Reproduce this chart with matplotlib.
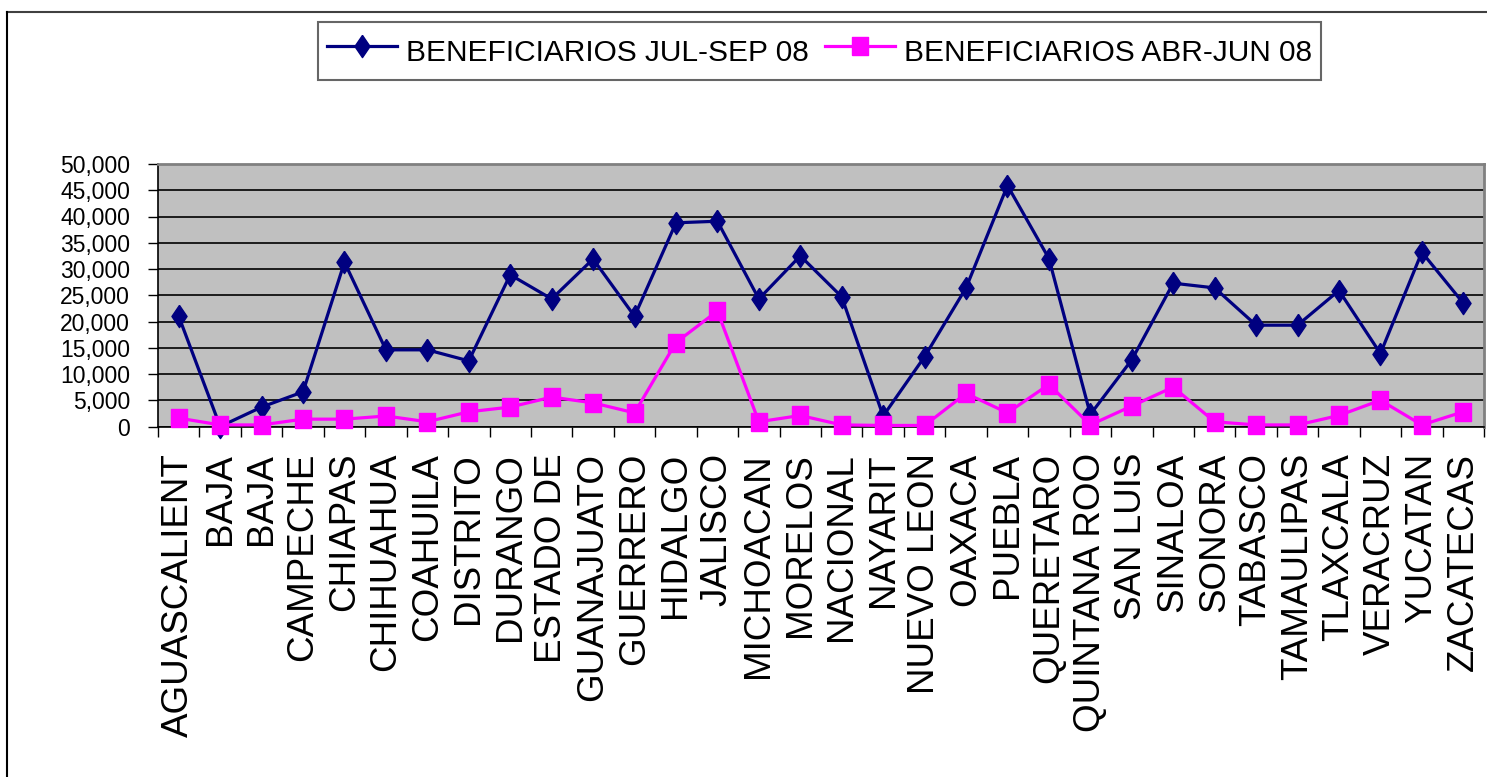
import matplotlib.pyplot as plt
import numpy as np
from matplotlib.lines import Line2D
from matplotlib.ticker import FuncFormatter, MultipleLocator

estados = [
    "AGUASCALIENT", "BAJA", "BAJA", "CAMPECHE", "CHIAPAS", "CHIHUAHUA",
    "COAHUILA", "DISTRITO", "DURANGO", "ESTADO DE", "GUANAJUATO", "GUERRERO",
    "HIDALGO", "JALISCO", "MICHOACAN", "MORELOS", "NACIONAL", "NAYARIT",
    "NUEVO LEON", "OAXACA", "PUEBLA", "QUERETARO", "QUINTANA ROO", "SAN LUIS",
    "SINALOA", "SONORA", "TABASCO", "TAMAULIPAS", "TLAXCALA", "VERACRUZ",
    "YUCATAN", "ZACATECAS",
]
jul_sep_08 = [
    21000, 0, 3700, 6600, 31300, 14600, 14600, 12500, 28900, 24300, 31900,
    21000, 38800, 39100, 24300, 32500, 24700, 2000, 13300, 26400, 45900,
    32000, 2300, 12700, 27300, 26400, 19300, 19300, 25900, 13900, 33200, 23500,
]
abr_jun_08 = [
    1600, 300, 300, 1400, 1400, 2000, 900, 2800, 3700, 5600, 4500, 2600,
    16000, 22000, 900, 2100, 300, 200, 200, 6300, 2600, 8000, 300, 3900,
    7500, 900, 300, 300, 2100, 5000, 300, 2800,
]

W, H = 1487, 777
fig = plt.figure(figsize=(W / 100, H / 100), dpi=100)
ax = fig.add_axes([158 / W, 1 - 426.5 / H, (1484 - 158) / W, (426.5 - 164) / H])

x = np.arange(len(estados))

# markers: tall diamond, slightly tall square
diamante = [(0, 1), (0.68, 0), (0, -1), (-0.68, 0), (0, 1)]
cuadro = [(-0.88, -1), (0.88, -1), (0.88, 1), (-0.88, 1), (-0.88, -1)]

ax.plot(x, jul_sep_08, color="#000080", lw=2.3, marker=diamante, ms=16,
        mfc="#000080", mec="#000080", label="BENEFICIARIOS JUL-SEP 08",
        clip_on=False, zorder=3)
ax.plot(x, abr_jun_08, color="#FF00FF", lw=2.3, marker=cuadro, ms=13,
        mfc="#FF00FF", mec="#FF00FF", label="BENEFICIARIOS ABR-JUN 08",
        clip_on=False, zorder=4)

ax.set_xlim(-0.5, len(estados) - 0.5)
ax.set_ylim(0, 50000)
ax.set_facecolor("#C0C0C0")

ax.yaxis.set_major_locator(MultipleLocator(5000))
ax.yaxis.set_major_formatter(FuncFormatter(lambda v, p: f"{int(v):,}"))
ax.grid(axis="y", color="black", lw=1.2)
ax.set_axisbelow(True)

ax.set_xticks(x)
ax.set_xticklabels(estados, rotation=90, ha="center", va="top",
                   family="Liberation Sans", fontsize=26.5)
ax.set_xticks(np.arange(len(estados) + 1) - 0.5, minor=True)
ax.tick_params(axis="x", which="major", length=0, pad=19)
ax.tick_params(axis="x", which="minor", length=7, width=1, color="black",
               direction="out")
ax.tick_params(axis="y", length=7, width=1, direction="out", pad=13,
               labelsize=16.5)
for lbl in ax.get_yticklabels():
    lbl.set_family("Liberation Sans")

ax.spines["left"].set_color("black")
ax.spines["bottom"].set_color("black")
ax.spines["left"].set_linewidth(1.2)
ax.spines["bottom"].set_linewidth(1.2)
ax.spines["top"].set_color("#808080")
ax.spines["right"].set_color("#808080")
ax.spines["top"].set_linewidth(2)
ax.spines["right"].set_linewidth(2)

leg = fig.legend(loc="upper left", bbox_to_anchor=(318 / W, 1 - 22 / H),
                 ncol=2, frameon=True, fancybox=False, borderaxespad=0,
                 prop={"family": "Liberation Sans", "size": 21.5},
                 handlelength=2.35, handletextpad=0.3, columnspacing=0.55,
                 borderpad=0.3, handleheight=1.7)
leg.get_frame().set_edgecolor("#404040")
leg.get_frame().set_linewidth(1.5)

# outer chart frame (top and left only visible)
fig.add_artist(Line2D([7 / W, 1], [1 - 12 / H, 1 - 12 / H],
                      transform=fig.transFigure, color="#404040", lw=1.5))
fig.add_artist(Line2D([7 / W, 7 / W], [0, 1 - 12 / H],
                      transform=fig.transFigure, color="black", lw=1.5))

fig.savefig("out.png", dpi=100)
